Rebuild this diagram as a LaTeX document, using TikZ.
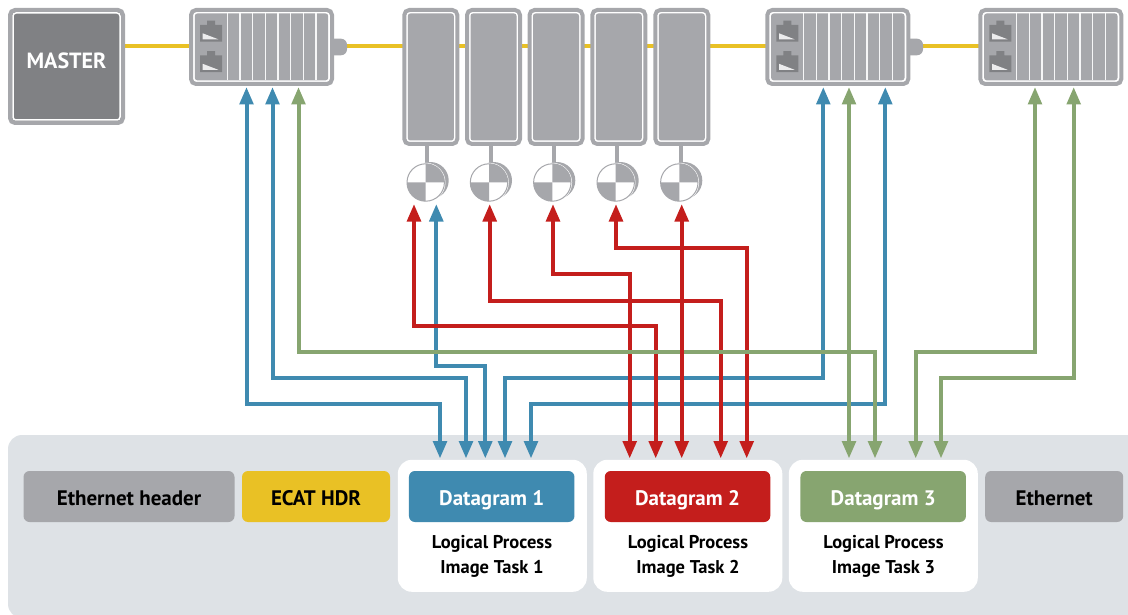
\documentclass[tikz,border=0pt]{standalone}
\usepackage{fontspec}
\setmainfont{PT Sans}
\usetikzlibrary{arrows.meta,calc}
\definecolor{modgray}{HTML}{A6A7AB}
\definecolor{portgray}{HTML}{808184}
\definecolor{bandgray}{HTML}{DEE2E6}
\definecolor{busyellow}{HTML}{E9C125}
\definecolor{dgblue}{HTML}{3F8AB0}
\definecolor{dgred}{HTML}{C41E1C}
\definecolor{dggreen}{HTML}{87A570}
\tikzset{
  >={Triangle[length=17.5pt,width=13.5pt]},
  link/.style={line width=4pt,<->},
  bus/.style={line width=4pt,busyellow},
  shell/.style={draw=modgray,line width=4pt,fill=white,rounded corners=5pt,inner sep=0pt,outer sep=0pt},
  core/.style={fill=modgray,rounded corners=2.5pt},
  field/.style={rounded corners=6pt,font=\fontsize{21}{24}\selectfont\bfseries,inner sep=0pt,text height=18pt,text depth=0pt},
  taskbox/.style={fill=white,rounded corners=14pt,minimum width=189pt,minimum height=132pt,inner sep=0pt},
  caption/.style={font=\fontsize{18.5}{25}\selectfont\bfseries,align=center,inner sep=0pt},
  slat/.style={white!90!modgray,line width=1.2pt},
  iomod/.pic={
    \node[shell,minimum width=141pt,minimum height=74pt,anchor=north west] (-box) at (0,0) {};
    \fill[core] (3.8,3.5) rectangle (137.2,70.3);
    \foreach \x in {36.5,49,61.7,74.3,87,99.7,112.3,125}
      \draw[slat] (\x,3.5) -- (\x,70.3);
    \foreach \y in {0,30.5} {
      \fill[portgray] (9,15+\y) rectangle (31,31.7+\y) (16,10.7+\y) rectangle (24,15+\y);
      \fill[white!85!portgray] (11.7,23.3+\y) -- (27.3,29.3+\y) -- (11.7,29.3+\y) -- cycle;
    }
  },
  termmod/.pic={
    \node[shell,minimum width=53pt,minimum height=134pt,anchor=north west] (-box) at (0,0) {};
    \fill[core] (3.5,3.5) rectangle (49.5,130.5);
  },
  motor/.pic={
    \draw[modgray,line width=4pt] (1.5,-37) -- (1.5,-15);
    \fill[modgray] (4.5,-2) circle (18.5pt);
    \node[circle,fill=white,minimum size=39.5pt,inner sep=0pt,outer sep=0pt] (-disc) at (0,0) {};
    \draw[modgray,line width=1pt] (0,0) circle (18.7pt);
    \fill[modgray] (0,0) -- (-18.7,0) arc (180:90:18.7) -- cycle;
    \fill[modgray] (0,0) -- (18.7,0) arc (0:-90:18.7) -- cycle;
  }
}
\begin{document}
\begin{tikzpicture}[x=1pt,y=-1pt]
\useasboundingbox (0,0) rectangle (1128,615);
% frame band
\fill[bandgray,rounded corners=14pt] (8,435) -- (1150,435) -- (1150,618) -- (8,618) -- cycle;
\node[taskbox] (task1) at (492.3,525.8) {};
\node[taskbox] (task2) at (687.8,525.8) {};
\node[taskbox] (task3) at (883.3,525.8) {};
\node[field,fill=modgray,minimum width=211pt,minimum height=51pt] (ethhead) at (129,496.5) {Ethernet header};
\node[field,fill=busyellow,minimum width=148pt,minimum height=51pt] (ecat) at (316,496.5) {ECAT HDR};
\node[field,fill=modgray,minimum width=138pt,minimum height=51pt] (ethtail) at (1054.2,496.5) {Ethernet};
\node[field,fill=dgblue,text=white,minimum width=165.5pt,minimum height=51pt] (dg1) at (491.7,496.5) {Datagram 1};
\node[field,fill=dgred,text=white,minimum width=165.5pt,minimum height=51pt] (dg2) at (687.5,496.5) {Datagram 2};
\node[field,fill=dggreen,text=white,minimum width=165.5pt,minimum height=51pt] (dg3) at (883.2,496.5) {Datagram 3};
\node[caption] (cap1) at (492,556.5) {Logical Process\\Image Task 1};
\node[caption] (cap2) at (688,556.5) {Logical Process\\Image Task 2};
\node[caption] (cap3) at (883.5,556.5) {Logical Process\\Image Task 3};
% bus
\coordinate (busin) at (120,46.5);
\coordinate (busout) at (985,46.5);
\draw[bus] (busin) -- (busout);
% devices
\node[fill=portgray,draw=modgray,line width=4pt,rounded corners=5pt,minimum width=113pt,minimum height=113pt,inner sep=0pt,outer sep=0pt] (master) at (66.5,66.5) {};
\draw[white,line width=1.5pt,rounded corners=3pt] (13,13) rectangle (120,120);
\node[white,font=\fontsize{22}{24}\selectfont\bfseries,inner sep=0pt,text height=16pt,text depth=0pt] (mastertext) at (66.5,61) {MASTER};
\foreach \x in {332,908}
  \fill[modgray,rounded corners=6pt] (\x-8,38.7) rectangle (\x+15,55.3);
\foreach \name/\x in {iomodA/191,iomodB/767.3,iomodC/980.3}
  \pic (\name) at (\x,10) {iomod};
\foreach \name/\x in {termA/404.3,termB/467,termC/529.5,termD/592.3,termE/655.3}
  \pic (\name) at (\x,10) {termmod};
\foreach \name/\x in {motA/425.7,motB/489,motC/552.3,motD/615.7,motE/679.3}
  \pic (\name) at (\x,182.5) {motor};
% links
\foreach \xa/\ya/\ymid/\xb/\clr in {%
  246.5/87/403.7/440/dgblue,272.5/87/377.7/466/dgblue,436.3/204/366/485.3/dgblue,823.3/87/377.7/505/dgblue,885.3/87/403.7/531/dgblue,%
  414/204/326/655.7/dgred,489.7/204/300.7/720.7/dgred,553/204/274/629.7/dgred,616/204/248.3/746.7/dgred,%
  298.5/87/352/875/dggreen,1035/87/352/915.7/dggreen,1073.7/87/377.7/941/dggreen}
{
  \coordinate (top) at (\xa,\ya);
  \coordinate (bot) at (\xb,458.5);
  \draw[link,\clr] (top) -- (\xa,\ymid) -- (\xb,\ymid) -- (bot);
}
\coordinate (topred) at (681.7,204);
\coordinate (botred) at (681.7,458.5);
\draw[link,dgred] (topred) -- (botred);
\coordinate (topgreen) at (849,87);
\coordinate (botgreen) at (849,458.5);
\draw[link,dggreen] (topgreen) -- (botgreen);
\end{tikzpicture}
\end{document}
